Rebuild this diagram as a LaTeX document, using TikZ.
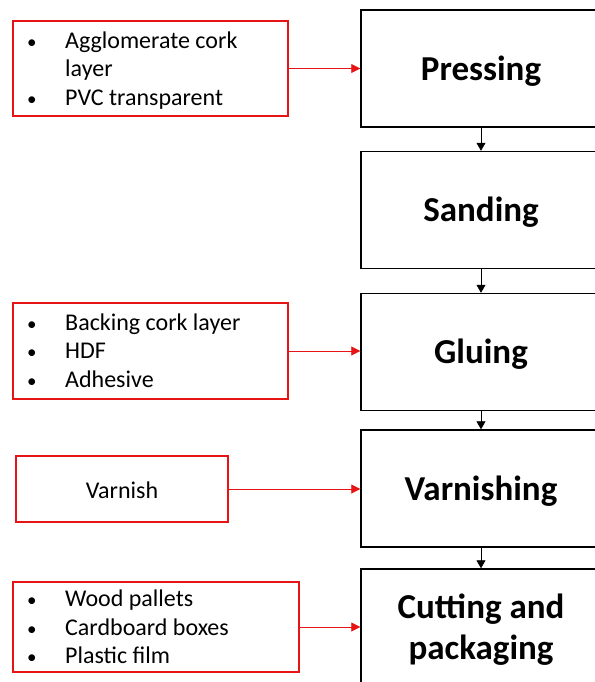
\documentclass[tikz,border=0pt]{standalone}
\usepackage{fontspec}
\setmainfont{Carlito}
\usetikzlibrary{arrows.meta}
\definecolor{boxred}{RGB}{230,20,20}
\tikzset{
  stepbox/.style={draw=black, line width=1.4pt, minimum width=240pt, minimum height=117pt, inner sep=0pt},
  steptext/.style={inner sep=0pt, font=\fontsize{35}{41}\selectfont\bfseries, align=center},
  inbox/.style={draw=boxred, line width=1.2pt, inner sep=0pt},
  intext/.style={inner sep=0pt, font=\fontsize{24}{28.6}\selectfont},
  flow/.style={draw=black, line width=0.8pt, -{Triangle[length=8pt,width=9pt]}},
  feed/.style={draw=boxred, line width=0.8pt, -{Triangle[length=9pt,width=9pt,fill=boxred]}}
}
\newcommand{\bl}{{\fontsize{19}{19}\selectfont\textbullet}}
\newcommand{\blist}[1]{\begin{tabular}{@{}p{38pt}@{}l@{}}#1\end{tabular}}
\begin{document}
\begin{tikzpicture}[x=1pt,y=-1pt]
\useasboundingbox (0,0) rectangle (594,682);
% main process boxes
\node[stepbox] (press) at (481,68.5) {};
\node[stepbox] (sand) at (481,210) {};
\node[stepbox] (glue) at (481,352) {};
\node[stepbox] (varn) at (481,488.5) {};
\node[stepbox] (cut) at (481,627.5) {};
\node[steptext] (pressT) at (481,71) {Pressing};
\node[steptext] (sandT) at (481,212.5) {Sanding};
\node[steptext] (glueT) at (481,354.5) {Gluing};
\node[steptext] (varnT) at (481,491) {Varnishing};
\node[steptext] (cutT) at (481,629.5) {Cutting and\\packaging};
% input boxes
\node[inbox, minimum width=275pt, minimum height=95pt] (in1) at (150.5,68.5) {};
\node[inbox, minimum width=275pt, minimum height=96pt] (in2) at (150.5,351) {};
\node[inbox, minimum width=212pt, minimum height=66pt] (in3) at (122,489) {};
\node[inbox, minimum width=286pt, minimum height=90pt] (in4) at (156,627) {};
% input texts
\node[intext, anchor=west] (t1) at (27,71)
  {\blist{\bl & Agglomerate cork\\ & layer\\ \bl & PVC transparent}};
\node[intext, anchor=west] (t2) at (27,353)
  {\blist{\bl & Backing cork layer\\ \bl & HDF\\ \bl & Adhesive}};
\node[intext] (t3) at (122,490) {Varnish};
\node[intext, anchor=west] (t4) at (27,629.5)
  {\blist{\bl & Wood pallets\\ \bl & Cardboard boxes\\ \bl & Plastic film}};
% flow arrows
\draw[flow] (press) -- (sand);
\draw[flow] (sand) -- (glue);
\draw[flow] (glue) -- (varn);
\draw[flow] (varn) -- (cut);
% feed arrows
\draw[feed] (in1.east) -- (in1.east -| press.west);
\draw[feed] (in2.east) -- (in2.east -| glue.west);
\draw[feed] (in3.east) -- (in3.east -| varn.west);
\draw[feed] (in4.east) -- (in4.east -| cut.west);
\end{tikzpicture}
\end{document}
